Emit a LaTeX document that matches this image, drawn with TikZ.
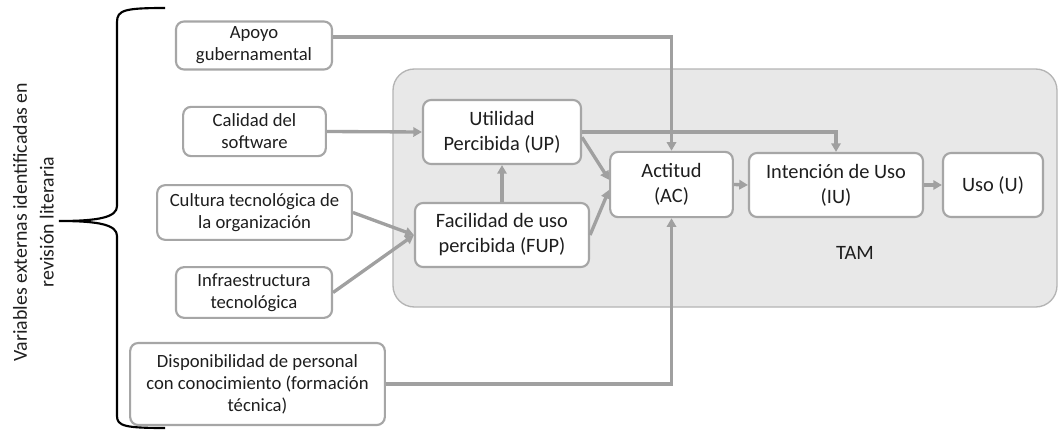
\documentclass[tikz,border=0pt]{standalone}
\usepackage{fontspec}
\setmainfont{Carlito}
\usetikzlibrary{arrows.meta}
\definecolor{boxline}{HTML}{A6A6A6}
\definecolor{arrowgray}{HTML}{A0A0A0}
\definecolor{tamfill}{HTML}{E8E8E8}
\definecolor{tamline}{HTML}{B4B4B4}
\definecolor{txt}{HTML}{1E1E1E}
\tikzset{
  smallbox/.style={draw=boxline, line width=1.6pt, rounded corners=6pt, fill=white,
    align=center, inner sep=0pt, text=txt, font=\fontsize{14}{16.5}\selectfont},
  bigbox/.style={draw=boxline, line width=1.6pt, rounded corners=6pt, fill=white,
    align=center, inner sep=0pt, text=txt, font=\fontsize{15.3}{18.7}\selectfont},
  arr/.style={draw=arrowgray, line width=2.5pt, -{Triangle[length=6.5pt,width=7pt]}},
}
\begin{document}
\begin{tikzpicture}[x=0.75pt,y=-0.75pt]
\useasboundingbox (0,0) rectangle (1060,432);
% TAM container
\path[fill=tamfill, draw=tamline, line width=1pt, rounded corners=16pt] (393,69) rectangle (1057,307);
\node[text=txt, font=\fontsize{15.3}{18.7}\selectfont] (tam) at (855,253) {TAM};
% external variables
\node[smallbox, minimum width=117pt, minimum height=36pt] (apoyo) at (254,45.5) {Apoyo\\gubernamental};
\node[smallbox, minimum width=107pt, minimum height=37pt] (calidad) at (254.5,131.5) {Calidad del\\software};
\node[smallbox, minimum width=146pt, minimum height=41pt] (cultura) at (254.5,212.5) {Cultura tecnológica de\\la organización};
\node[smallbox, minimum width=117pt, minimum height=38pt] (infra) at (254,292.5) {Infraestructura\\tecnológica};
\node[smallbox, minimum width=191pt, minimum height=61.5pt] (dispon) at (257.5,384) {Disponibilidad de personal\\con conocimiento (formación\\técnica)};
% TAM nodes
\node[bigbox, minimum width=118.5pt, minimum height=48pt] (up) at (502,132) {Utilidad\\Percibida (UP)};
\node[bigbox, minimum width=130.5pt, minimum height=48pt] (fup) at (502,235) {Facilidad de uso\\percibida (FUP)};
\node[bigbox, minimum width=92pt, minimum height=49pt] (ac) at (671.5,184.5) {Actitud\\(AC)};
\node[bigbox, minimum width=130.5pt, minimum height=48pt] (iu) at (836,185) {Intención de Uso\\(IU)};
\node[bigbox, minimum width=75pt, minimum height=48pt] (u) at (993,185) {Uso (U)};
% connectors
\draw[arr] ([yshift=6.5pt]apoyo.east) -| (ac.north);
\draw[arr] (calidad.east) -- (up.west);
\draw[arr] (up.east) -| (iu.north);
\draw[arr] ([yshift=-4pt]up.east) -- ([yshift=3.5pt]ac.west);
\draw[arr] (fup.east) -- ([yshift=-4pt]ac.west);
\draw[arr] (fup.north) -- (up.south);
\draw[arr] (cultura.east) -- (fup.west);
\draw[arr] (infra.east) -- (fup.west);
\draw[arr] (ac.east) -- (iu.west);
\draw[arr] (iu.east) -- (u.west);
\draw[arr] (dispon.east) -| (ac.south);
% brace
\draw[black, line width=1.6pt] (165,8) .. controls (125,8) and (117,10) .. (117,22) -- (117,206)
  .. controls (117,217) and (100,221) .. (59,221)
  .. controls (100,221) and (117,225) .. (117,236) -- (117,416)
  .. controls (117,426) and (125,428) .. (165,428);
\node[rotate=90, align=center, text=txt, font=\fontsize{14.9}{20}\selectfont] (label) at (33.5,222) {Variables externas identificadas en\\revisión literaria};
\end{tikzpicture}
\end{document}
